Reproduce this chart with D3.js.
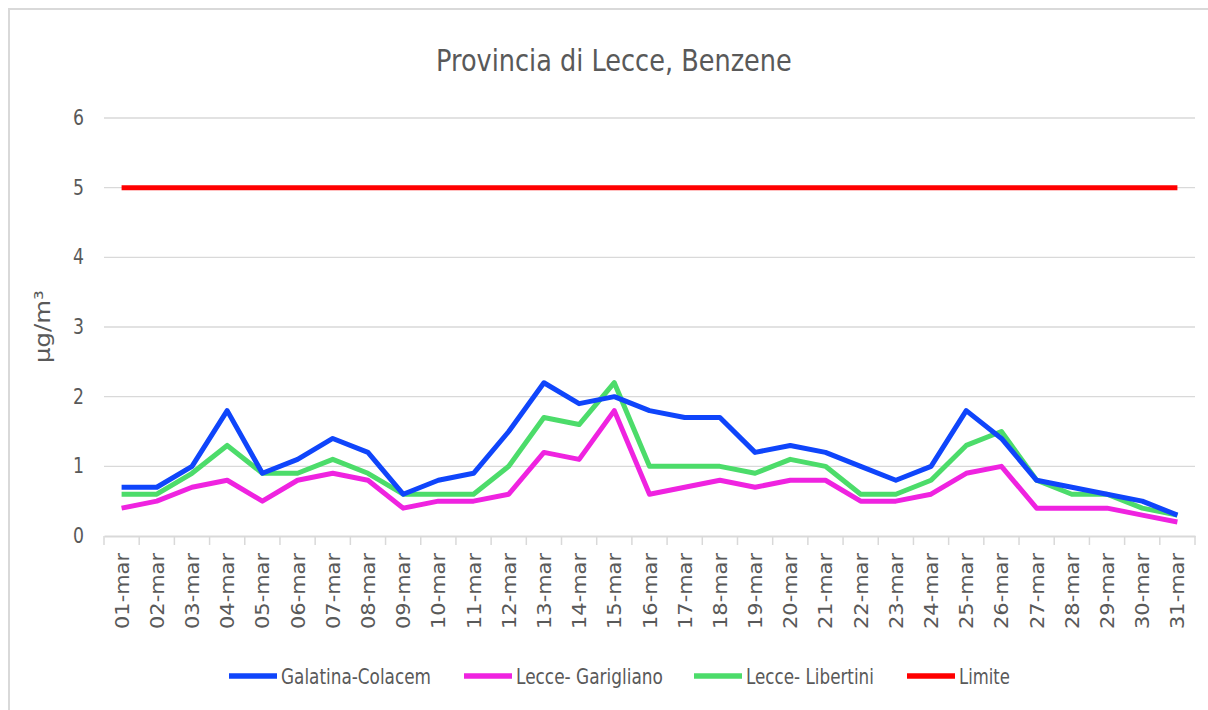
<!DOCTYPE html>
<html>
<head>
<meta charset="utf-8">
<script src="https://cdn.jsdelivr.net/npm/d3@7"></script>
<style>
  body { margin: 0; background: #fff; }
  svg { display: block; }
</style>
</head>
<body>
<div id="chart"></div>
<script>
(function(){
var days = ['01-mar','02-mar','03-mar','04-mar','05-mar','06-mar','07-mar','08-mar','09-mar','10-mar',
  '11-mar','12-mar','13-mar','14-mar','15-mar','16-mar','17-mar','18-mar','19-mar','20-mar',
  '21-mar','22-mar','23-mar','24-mar','25-mar','26-mar','27-mar','28-mar','29-mar','30-mar','31-mar'];

var galatina = [0.7,0.7,1.0,1.8,0.9,1.1,1.4,1.2,0.6,0.8,0.9,1.5,2.2,1.9,2.0,1.8,1.7,1.7,1.2,1.3,1.2,1.0,0.8,1.0,1.8,1.4,0.8,0.7,0.6,0.5,0.3];
var garigliano = [0.4,0.5,0.7,0.8,0.5,0.8,0.9,0.8,0.4,0.5,0.5,0.6,1.2,1.1,1.8,0.6,0.7,0.8,0.7,0.8,0.8,0.5,0.5,0.6,0.9,1.0,0.4,0.4,0.4,0.3,0.2];
var libertini = [0.6,0.6,0.9,1.3,0.9,0.9,1.1,0.9,0.6,0.6,0.6,1.0,1.7,1.6,2.2,1.0,1.0,1.0,0.9,1.1,1.0,0.6,0.6,0.8,1.3,1.5,0.8,0.6,0.6,0.4,0.3];
var limite = days.map(function(){ return 5; });

var yTicks = [0,1,2,3,4,5,6];

var series = [
  {name: 'Galatina-Colacem', values: galatina, color: '#0f45fb'},
  {name: 'Lecce- Garigliano', values: garigliano, color: '#ef23e0'},
  {name: 'Lecce- Libertini', values: libertini, color: '#4cdc6a'},
  {name: 'Limite', values: limite, color: '#ff0000'}
];

// legend entries: sample start and text width as measured on the original (condensed font)
var legX = [229, 464, 694, 907];
var legW = [150, 147, 128, 51];

var font = "'DejaVu Sans', sans-serif";
var grey = '#595959';

// squeeze a text horizontally to a given width (no condensed font available)
function squeeze(node, x0, w) {
  var nat = node.getComputedTextLength();
  var k = w / nat;
  d3.select(node).attr('transform', 'translate(' + x0 + ',0) scale(' + k + ',1)').attr('x', 0);
}

var svg = d3.select('#chart').append('svg').attr('width', 1208).attr('height', 710);

// chart frame
svg.append('rect').attr('x', 9).attr('y', 9).attr('width', 1210).attr('height', 710)
  .attr('fill', '#fff').attr('stroke', '#d9d9d9').attr('stroke-width', 2);

var x = d3.scaleBand().domain(days).range([104, 1195]);
var y = d3.scaleLinear().domain([0, 6]).range([536, 118]);

// gridlines
svg.append('g').selectAll('line').data(yTicks.filter(function(d){ return d > 0; })).enter()
  .append('line')
  .attr('x1', 104).attr('x2', 1195)
  .attr('y1', function(d){ return y(d); }).attr('y2', function(d){ return y(d); })
  .attr('stroke', '#d9d9d9').attr('stroke-width', 1.3);

// y labels
svg.append('g').selectAll('text').data(yTicks).enter()
  .append('text')
  .attr('y', function(d){ return y(d) + 7; })
  .style('font-family', font).style('font-size', '21px').style('fill', grey)
  .text(function(d){ return d; })
  .each(function(){ squeeze(this, 73, 11); });

// x axis
var xAxis = d3.axisBottom(x).tickSize(0).tickFormat('');
var gx = svg.append('g').attr('transform', 'translate(0,' + y(0) + ')').call(xAxis);
gx.select('.domain').attr('stroke', '#d9d9d9').attr('stroke-width', 2);
var bounds = days.map(function(d){ return x(d); }).concat([x.range()[1]]);
svg.append('g').selectAll('line').data(bounds).enter()
  .append('line')
  .attr('x1', function(d){ return d; }).attr('x2', function(d){ return d; })
  .attr('y1', y(0)).attr('y2', y(0) + 9)
  .attr('stroke', '#d9d9d9').attr('stroke-width', 1.5);

svg.append('g').selectAll('text').data(days).enter()
  .append('text')
  .attr('transform', function(d){
    return 'translate(' + (x(d) + x.bandwidth() / 2 + 7) + ',' + (y(0) + 17) + ') rotate(-90)';
  })
  .attr('text-anchor', 'end')
  .attr('textLength', 76).attr('lengthAdjust', 'spacingAndGlyphs')
  .style('font-family', font).style('font-size', '20px').style('fill', grey)
  .text(function(d){ return d; });

// y title
svg.append('g').attr('transform', 'translate(50,363) rotate(-90)')
  .append('text')
  .style('font-family', font).style('font-size', '21px').style('fill', grey)
  .text('\u00b5g/m\u00b3')
  .each(function(){ squeeze(this, 0, 73); });

// title
svg.append('text')
  .attr('y', 71)
  .style('font-family', font).style('font-size', '31px').style('fill', grey)
  .text('Provincia di Lecce, Benzene')
  .each(function(){ squeeze(this, 436, 356); });

// lines
var line = d3.line()
  .x(function(d, i){ return x(days[i]) + x.bandwidth() / 2; })
  .y(function(d){ return y(d); });

svg.append('g').selectAll('path').data(series.slice().reverse()).enter()
  .append('path')
  .attr('d', function(s){ return line(s.values); })
  .attr('fill', 'none')
  .attr('stroke', function(s){ return s.color; })
  .attr('stroke-width', 5)
  .attr('stroke-linejoin', 'round');

// legend
var leg = svg.append('g').selectAll('g').data(series).enter()
  .append('g')
  .attr('transform', function(d, i){ return 'translate(' + legX[i] + ',676)'; });
leg.append('line')
  .attr('x1', 0).attr('x2', 48).attr('y1', 0).attr('y2', 0)
  .attr('stroke', function(d){ return d.color; }).attr('stroke-width', 5.5);
leg.append('text')
  .attr('y', 8)
  .style('font-family', font).style('font-size', '22px').style('fill', grey)
  .text(function(d){ return d.name; })
  .each(function(d, i){ squeeze(this, 52, legW[i]); });
})();
</script>
</body>
</html>
